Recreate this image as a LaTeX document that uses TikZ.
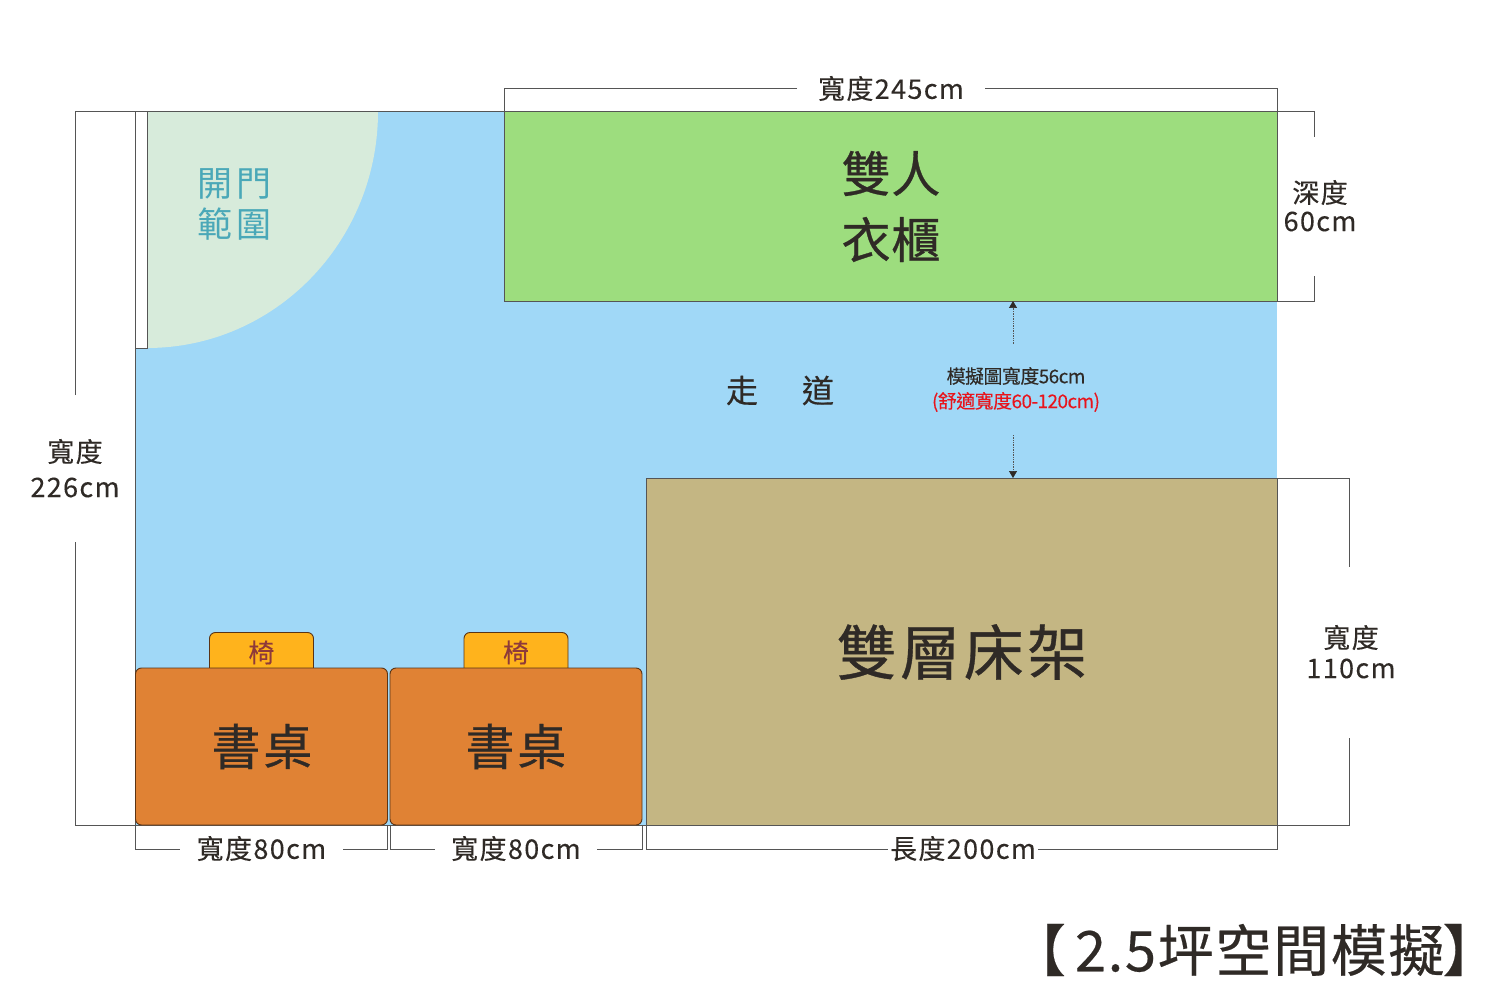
\documentclass[tikz,border=0pt]{standalone}
\usepackage{fontspec}
\usetikzlibrary{arrows.meta}
\setmainfont{Noto Sans CJK TC}
\definecolor{roomblue}{HTML}{A0D8F7}
\definecolor{wardgreen}{HTML}{9DDD7E}
\definecolor{bedtan}{HTML}{C4B683}
\definecolor{deskorange}{HTML}{E08234}
\definecolor{chairyellow}{HTML}{FFB31C}
\definecolor{doorpale}{HTML}{D7EBDB}
\definecolor{doorteal}{HTML}{4AA8B8}
\definecolor{inkdark}{HTML}{2F2A26}
\definecolor{chairink}{HTML}{8E3A3A}
\definecolor{linegrey}{HTML}{555555}
\definecolor{alertred}{HTML}{E8141C}
\newcommand{\fs}[2]{\fontsize{#1}{#2}\selectfont}
\tikzset{
  dimline/.style={draw=linegrey,line width=0.9pt},
  furn/.style={draw=linegrey,line width=0.9pt},
  desk/.style={draw=black!60!deskorange,line width=0.9pt,fill=deskorange,rounded corners=6pt},
  chair/.style={draw=black!60!deskorange,line width=0.9pt,fill=chairyellow,rounded corners=6pt},
  lbl/.style={inner sep=0pt,outer sep=0pt,text=inkdark,anchor=center},
  dimtxt/.style={lbl,font=\fs{27}{32}\addfontfeature{LetterSpace=5,FakeBold=0.15}},
  gaparrow/.style={draw=linegrey,line width=0.7pt,densely dotted,-{Triangle[length=7pt,width=8pt,color=inkdark]}},
}
\begin{document}
\begin{tikzpicture}[x=1pt,y=-1pt]
\useasboundingbox[fill=white] (0,0) rectangle (1500,1000);
% room
\fill[roomblue] (135.5,111.5) rectangle (1277,825);
% door sweep
\fill[doorpale] (147,111.5) -- (378,111.5) .. controls (378,242) and (274.6,348) .. (147,348) -- cycle;
\draw[furn,fill=white] (135.5,111.5) rectangle (147,348);
% outer walls lines
\draw[dimline] (75,395) -- (75,111.5) -- (1277,111.5);
\draw[dimline] (75,542) -- (75,825) -- (1349,825) -- (1349,738);
\draw[dimline] (135.5,111.5) -- (135.5,825);
% wardrobe
\draw[furn,fill=wardgreen] (504,111.5) rectangle (1277,301);
\draw[dimline] (797,88.5) -- (504,88.5) -- (504,111.5);
\draw[dimline] (985,88.5) -- (1277,88.5) -- (1277,111.5);
\draw[dimline] (1277,111.5) -- (1314,111.5) -- (1314,137);
\draw[dimline] (1277,301) -- (1314,301) -- (1314,276);
% bed
\draw[furn,fill=bedtan] (646,478) rectangle (1277,825);
\draw[dimline] (1277,478) -- (1349,478) -- (1349,567);
% chairs and desks
\draw[chair] (209.5,668) -- (209.5,632.5) -- (313.5,632.5) -- (313.5,668);
\draw[chair] (464,668) -- (464,632.5) -- (568,632.5) -- (568,668);
\draw[desk] (135.5,668) rectangle (387.5,825);
\draw[desk] (390,668) rectangle (642,825);
% bottom dimensions
\draw[dimline] (135.5,825) -- (135.5,849) -- (180,849);
\draw[dimline] (343,849) -- (387.5,849) -- (387.5,825);
\draw[dimline] (390,825) -- (390,849) -- (435,849);
\draw[dimline] (597,849) -- (642,849) -- (642,825);
\draw[dimline] (646,825) -- (646,849) -- (888,849);
\draw[dimline] (1038,849) -- (1277,849) -- (1277,825);
% gap arrows
\coordinate (gapTopEnd) at (1013,301);
\coordinate (gapTopStart) at (1013,344);
\coordinate (gapBotEnd) at (1013,478);
\coordinate (gapBotStart) at (1013,435);
\draw[gaparrow] (gapTopStart) -- (gapTopEnd);
\draw[gaparrow] (gapBotStart) -- (gapBotEnd);
% labels
\node[lbl,font=\fs{49}{56}\addfontfeature{LetterSpace=1.5,FakeBold=0.6}] (ward1) at (891,173.5) {雙人};
\node[lbl,font=\fs{49}{56}\addfontfeature{LetterSpace=1.5,FakeBold=0.6}] (ward2) at (891,239.5) {衣櫃};
\node[lbl,font=\fs{60}{68}\addfontfeature{LetterSpace=6,FakeBold=0.6}] (bedtxt) at (962,652) {雙層床架};
\node[lbl,font=\fs{49}{56}\addfontfeature{LetterSpace=6,FakeBold=0.6}] (desk1) at (262,746.5) {書桌};
\node[lbl,font=\fs{49}{56}\addfontfeature{LetterSpace=6,FakeBold=0.6}] (desk2) at (516,746.5) {書桌};
\node[lbl,text=chairink,font=\fs{26}{30}\addfontfeature{FakeBold=0.4}] (chair1) at (261.5,652.5) {椅};
\node[lbl,text=chairink,font=\fs{26}{30}\addfontfeature{FakeBold=0.4}] (chair2) at (516,652.5) {椅};
\node[lbl,text=doorteal,font=\fs{35}{40}\addfontfeature{LetterSpace=12}] (door1) at (234.5,184) {開門};
\node[lbl,text=doorteal,font=\fs{35}{40}\addfontfeature{LetterSpace=12}] (door2) at (234.5,224) {範圍};
\node[lbl,font=\fs{32}{36}\addfontfeature{FakeBold=0.4}] (walk) at (780,390.5) {走\hspace*{44pt}道};
\node[lbl,font=\fs{19}{22}\addfontfeature{LetterSpace=-3,FakeBold=0.15}] (gap1) at (1016,376) {模擬圖寬度56cm};
\node[lbl,text=alertred,font=\fs{19}{22}\addfontfeature{LetterSpace=-3,FakeBold=0.15}] (gap2) at (1016,402) {(舒適寬度60-120cm)};
\node[dimtxt] (d245) at (891,88.5) {寬度245cm};
\node[dimtxt] (d226a) at (75,451.5) {寬度};
\node[dimtxt] (d226b) at (75,487.5) {226cm};
\node[dimtxt] (d60a) at (1320,192.5) {深度};
\node[dimtxt] (d60b) at (1320,221.5) {60cm};
\node[dimtxt] (d110a) at (1351,637.5) {寬度};
\node[dimtxt] (d110b) at (1351,668.5) {110cm};
\node[dimtxt] (d80a) at (261.5,848.5) {寬度80cm};
\node[dimtxt] (d80b) at (516,848.5) {寬度80cm};
\node[dimtxt] (d200) at (963,848.5) {長度200cm};
\node[lbl,font=\fs{56}{64}\addfontfeature{LetterSpace=3,FakeBold=0.4},anchor=west] (title) at (1010,950) {【\hspace*{9pt}2.5坪空間模擬\hspace*{-2pt}】};
\end{tikzpicture}
\end{document}
